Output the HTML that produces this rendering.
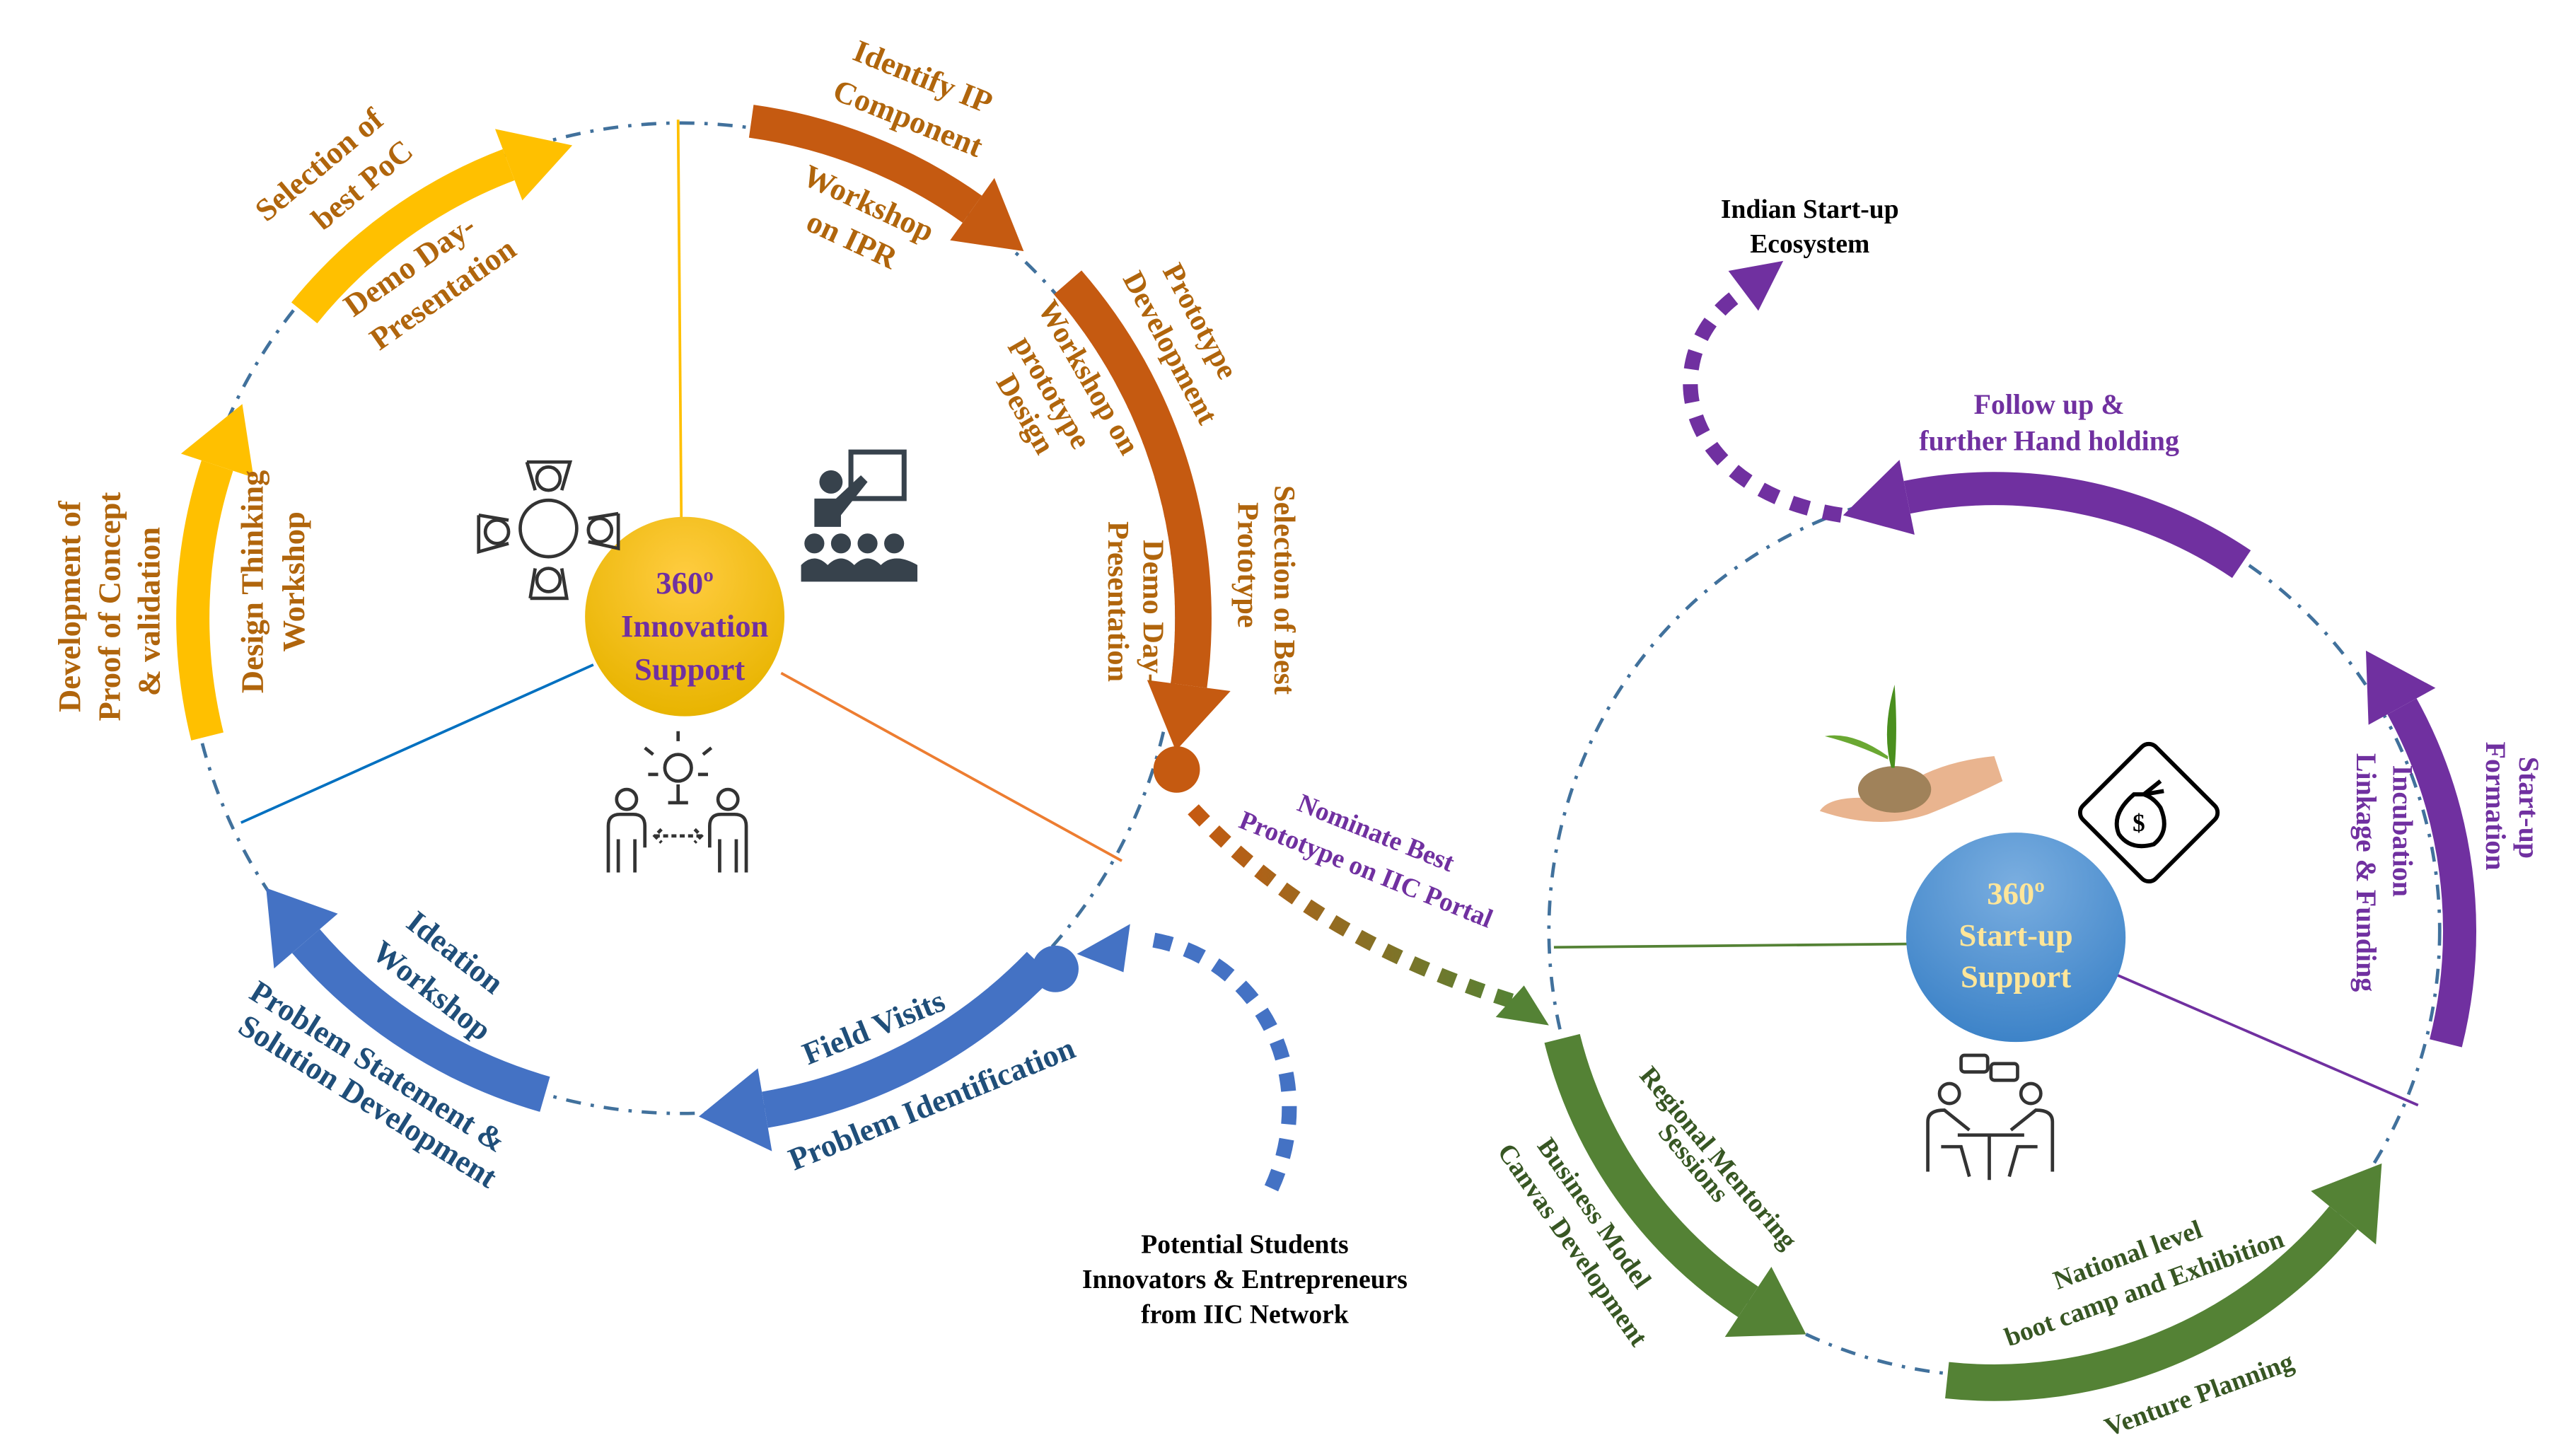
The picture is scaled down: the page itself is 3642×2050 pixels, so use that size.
<!DOCTYPE html>
<html><head><meta charset="utf-8"><style>
html,body{margin:0;padding:0;background:#fff;}
svg{display:block;}
text{font-family:"Liberation Serif",serif;font-weight:bold;}
</style></head><body>
<svg id="s" width="3642" height="2050" viewBox="0 0 1550 872.5" xmlns="http://www.w3.org/2000/svg">
<defs>
<radialGradient id="gy" cx="50%" cy="30%" r="70%"><stop offset="0" stop-color="#ffcc40"/><stop offset="1" stop-color="#e8b400"/></radialGradient>
<radialGradient id="gb" cx="50%" cy="25%" r="75%"><stop offset="0" stop-color="#7aaee0"/><stop offset="1" stop-color="#3d83c8"/></radialGradient>
<linearGradient id="gog" x1="0" y1="0" x2="1" y2="0"><stop offset="0" stop-color="#c55a11"/><stop offset="1" stop-color="#548235"/></linearGradient>
</defs>
<g id="circles"></g>
<g id="spokes">
<line x1="408" y1="72" x2="410" y2="320" stroke="#ffc000" stroke-width="1.6"/>
<line x1="357" y1="400" x2="145" y2="495" stroke="#0070c0" stroke-width="1.6"/>
<line x1="470" y1="405" x2="675" y2="518" stroke="#ed7d31" stroke-width="1.6"/>
<line x1="935" y1="570" x2="1150" y2="568" stroke="#548235" stroke-width="1.6"/>
<line x1="1270" y1="585" x2="1455" y2="665" stroke="#7030a0" stroke-width="1.6"/>
</g>
<g id="arrows"></g>
<g id="connectors">
<path d="M718 487 Q790 565 912 603" fill="none" stroke="url(#gog)" stroke-width="9" stroke-dasharray="10 8"/>
<polygon points="932,617 900,612 917,593" fill="#548235"/>
<path d="M765 715 C795 650 760 575 690 565" fill="none" stroke="#4472c4" stroke-width="9" stroke-dasharray="11 9"/>
<polygon points="648,574 680,556 676,585" fill="#4472c4"/>
<path d="M1108 310 C1010 295 995 215 1045 178" fill="none" stroke="#7030a0" stroke-width="9" stroke-dasharray="11 9"/>
<polygon points="1073,157 1040,163 1058,187" fill="#7030a0"/>
</g>
<g id="centers">
<circle cx="412" cy="371" r="60" fill="url(#gy)"/>
<text x="412" y="357" font-size="19" fill="#7030a0" text-anchor="middle">360º</text>
<text x="418" y="383" font-size="19" fill="#7030a0" text-anchor="middle">Innovation</text>
<text x="415" y="409" font-size="19" fill="#7030a0" text-anchor="middle">Support</text>
<ellipse cx="1213" cy="564" rx="66" ry="63" fill="url(#gb)"/>
<text x="1213" y="544" font-size="19" fill="#ffe699" text-anchor="middle">360º</text>
<text x="1213" y="569" font-size="19" fill="#ffe699" text-anchor="middle">Start-up</text>
<text x="1213" y="594" font-size="19" fill="#ffe699" text-anchor="middle">Support</text>
</g>
<g id="icons" stroke="#333" fill="none" stroke-width="2">
<g>
<circle cx="330" cy="318" r="17"/>
<circle cx="330" cy="288" r="7"/><circle cx="330" cy="349" r="7"/><circle cx="299" cy="320" r="7"/><circle cx="361" cy="319" r="7"/>
<path d="M317 278 L343 278 L338 295 M322 295 L317 278"/>
<path d="M319 360 L341 360 L338 342 M322 342 L319 360"/>
<path d="M288 310 L288 332 L306 327 M306 313 L288 310"/>
<path d="M372 309 L372 330 L354 326 M354 312 L372 309"/>
</g>
<g fill="#37424c" stroke="none">
<rect x="512" y="272" width="32" height="28" fill="none" stroke="#37424c" stroke-width="3"/>
<circle cx="500" cy="290" r="7"/>
<path d="M490 300 L503 300 L518 286 L522 290 L506 310 L506 317 L490 317 Z"/>
<circle cx="490" cy="327" r="6"/><circle cx="506" cy="327" r="6"/><circle cx="522" cy="327" r="6"/><circle cx="538" cy="327" r="6"/>
<path d="M482 350 L482 340 Q490 332 498 340 Q506 332 514 340 Q522 332 530 340 Q538 332 552 340 L552 350 Z"/>
</g>
<g>
<circle cx="408" cy="462" r="8"/><line x1="408" y1="472" x2="408" y2="482"/><line x1="402" y1="483" x2="414" y2="483"/>
<path d="M393 454 l-5 -4 M423 454 l5 -4 M408 446 v-6 M396 466 h-6 M420 466 h6"/>
<circle cx="377" cy="481" r="6"/><circle cx="438" cy="481" r="6"/>
<path d="M366 525 V497 Q366 490 373 490 H381 Q388 490 388 497 V510 M372 525 V505 M382 525 V505"/>
<path d="M449 525 V497 Q449 490 442 490 H434 Q427 490 427 497 V510 M443 525 V505 M433 525 V505"/>
<path d="M394 503 h28 M398 499 l-4 4 4 4 M418 499 l4 4 -4 4" stroke-dasharray="3 2"/>
</g>
<g stroke="none">
<path d="M1095 488 Q1130 500 1160 490 Q1185 480 1205 470 L1200 455 Q1170 458 1150 470 L1120 480 Q1100 480 1095 488 Z" fill="#e9b48f"/>
<ellipse cx="1140" cy="475" rx="22" ry="14" fill="#a0825a"/>
<path d="M1138 462 Q1132 440 1140 412 Q1142 440 1140 462 Z" fill="#4a8f1e"/>
<path d="M1136 455 Q1115 440 1098 443 Q1118 448 1136 457 Z" fill="#6aa832"/>
</g>
<g stroke="#000" stroke-width="2.5">
<rect x="1262" y="458" width="62" height="62" rx="6" transform="rotate(45 1293 489)"/>
<path d="M1284 478 Q1270 490 1275 502 Q1282 512 1296 508 Q1306 500 1300 486 Q1296 480 1290 478 Z"/>
<path d="M1290 478 l10 -8 M1290 478 l12 -2"/>
<text x="1287" y="500" font-size="15" fill="#000" stroke="none" text-anchor="middle" font-family="Liberation Sans">$</text>
</g>
<g>
<rect x="1180" y="635" width="16" height="10" rx="2"/><rect x="1198" y="640" width="16" height="10" rx="2"/>
<circle cx="1173" cy="658" r="6"/><circle cx="1222" cy="658" r="6"/>
<path d="M1160 705 V675 Q1160 668 1170 668 L1185 680 M1235 705 V675 Q1235 668 1225 668 L1210 680"/>
<path d="M1178 683 H1218 M1197 683 V710 M1168 690 H1180 L1185 708 M1226 690 H1214 L1209 708"/>
</g>
</g>
<g id="labels"></g>
</svg>
<script>
// ring geometry (display units)
var ringNames = ['innovation-ring','startup-ring'];
var ringCx = [410, 1200];
var ringCy = [372, 560];
var ringR = [298, 268];
// arrows: ring index, start angle, end angle, radius, width, colour
var arcNames = ['arrow-design-thinking','arrow-selection-poc','arrow-identify-ip','arrow-prototype-development','arrow-problem-identification','arrow-ideation','arrow-follow-up','arrow-startup-formation','arrow-national-bootcamp','arrow-regional-mentoring'];
var arcRing = [0,0,0,0,0,0,1,1,1,1];
var arcStart = [166,-141,-82,-41,44,106,-56,14,96,166];
var arcEnd = [206,-103,-47,15,88,147,-110,-37,31,115];
var arcRad = [294,292,302,308,300,298,266,280,272,268];
var arcWidth = [20,20,20,22,22,22,20,20,22,22];
var arcColor = ['#ffc000','#ffc000','#c55a11','#c55a11','#4472c4','#4472c4','#7030a0','#7030a0','#548235','#548235'];

var NS='http://www.w3.org/2000/svg';
function pt(cx,cy,r,a){var t=a*Math.PI/180;return [cx+r*Math.cos(t),cy+r*Math.sin(t)];}
var gc=document.getElementById('circles');
for(var i=0;i<ringCx.length;i++){
  var c=document.createElementNS(NS,'circle');
  
  
  c.setAttribute('cx',ringCx[i]);c.setAttribute('cy',ringCy[i]);c.setAttribute('r',ringR[i]);
  c.setAttribute('fill','none');c.setAttribute('stroke','#41719c');c.setAttribute('stroke-width','2');
  c.setAttribute('stroke-dasharray','9 6 2 6');
  gc.appendChild(c);
}
var ga=document.getElementById('arrows');
for(var k=0;k<arcNames.length;k++){
  var cx=ringCx[arcRing[k]],cy=ringCy[arcRing[k]],r=arcRad[k],w=arcWidth[k];
  var dir=arcEnd[k]>arcStart[k]?1:-1;
  var L=40, hw=w*1.15;
  var ab=arcEnd[k]-dir*(L/r)*180/Math.PI;
  var p0=pt(cx,cy,r,arcStart[k]),p1=pt(cx,cy,r,ab);
  var sweep=dir>0?1:0;
  var g=document.createElementNS(NS,'g');
  
  
  var p=document.createElementNS(NS,'path');
  p.setAttribute('d','M'+p0[0]+' '+p0[1]+' A'+r+' '+r+' 0 0 '+sweep+' '+p1[0]+' '+p1[1]);
  p.setAttribute('fill','none');p.setAttribute('stroke',arcColor[k]);p.setAttribute('stroke-width',w);
  g.appendChild(p);
  var a=pt(cx,cy,r+hw,ab),b=pt(cx,cy,r-hw,ab),t=pt(cx,cy,r,arcEnd[k]);
  var h=document.createElementNS(NS,'polygon');
  h.setAttribute('points',a.join(',')+' '+t.join(',')+' '+b.join(','));
  h.setAttribute('fill',arcColor[k]);
  g.appendChild(h);
  ga.appendChild(g);
}
// dots
var dots=[[708,463,14,'#c55a11','dot-prototype-end'],[635,583,14,'#4472c4','dot-field-visits-start']];
dots.forEach(function(d){var c=document.createElementNS(NS,'circle');


c.setAttribute('cx',d[0]);c.setAttribute('cy',d[1]);c.setAttribute('r',d[2]);c.setAttribute('fill',d[3]);ga.appendChild(c);});

// labels: text, x, y, rotation, colour, size
var Y='#b0650c',B='#1f4e79',P='#7030a0',G='#375623',K='#000';
var labels=[
['Selection of',196,104,-40,Y,19],['best PoC',222,116,-40,Y,19],
['Demo Day-',250,165,-35,Y,19],['Presentation',270,182,-35,Y,19],
['Development of',48,365,-90,Y,19],['Proof of Concept',72,365,-90,Y,19],['& validation',96,368,-90,Y,19],
['Design Thinking',158,350,-90,Y,19],['Workshop',183,350,-90,Y,19],
['Identify IP',553,52,22,Y,19],['Component',544,77,22,Y,19],
['Workshop',520,128,25,Y,19],['on IPR',510,150,25,Y,19],
['Prototype',717,196,62,Y,18],['Development',699,212,62,Y,18],
['Workshop on',650,230,60,Y,18],['prototype',628,239,60,Y,18],['Design',612,252,60,Y,18],
['Selection of Best',767,355,90,Y,18],['Prototype',745,340,90,Y,18],
['Demo Day-',688,368,90,Y,18],['Presentation',667,362,90,Y,18],
['Ideation',270,578,38,B,19],['Workshop',256,601,38,B,19],
['Problem Statement &',224,647,32,B,19],['Solution Development',218,668,32,B,19],
['Field Visits',528,624,-22,B,19],['Problem Identification',563,670,-22,B,19],
['Potential Students',749,754,0,K,16],['Innovators & Entrepreneurs',749,775,0,K,16],['from IIC Network',749,796,0,K,16],
['Nominate Best',826,506,22,P,16],['Prototype on IIC Portal',820,528,22,P,16],
['Indian Start-up',1089,131,0,K,16],['Ecosystem',1089,152,0,K,16],
['Follow up &',1233,249,0,P,17],['further Hand holding',1233,271,0,P,17],
['Start-up',1516,486,90,P,17],['Formation',1496,485,90,P,17],
['Incubation',1440,500,90,P,17],['Linkage & Funding',1418,525,90,P,17],
['Regional Mentoring',1030,700,50,G,16],['Sessions',1015,703,50,G,16],
['Business Model',955,733,55,G,16],['Canvas Development',942,752,55,G,16],
['National level',1282,760,-20,G,16],['boot camp and Exhibition',1292,780,-20,G,16],
['Venture Planning',1325,844,-20,G,16]
];
var gl=document.getElementById('labels');
labels.forEach(function(l){var t=document.createElementNS(NS,'text');


t.setAttribute('text-anchor','middle');t.setAttribute('font-size',l[5]);t.setAttribute('fill',l[4]);
t.setAttribute('transform','translate('+l[1]+','+l[2]+') rotate('+l[3]+')');
t.textContent=l[0];gl.appendChild(t);});
</script>
</body></html>
